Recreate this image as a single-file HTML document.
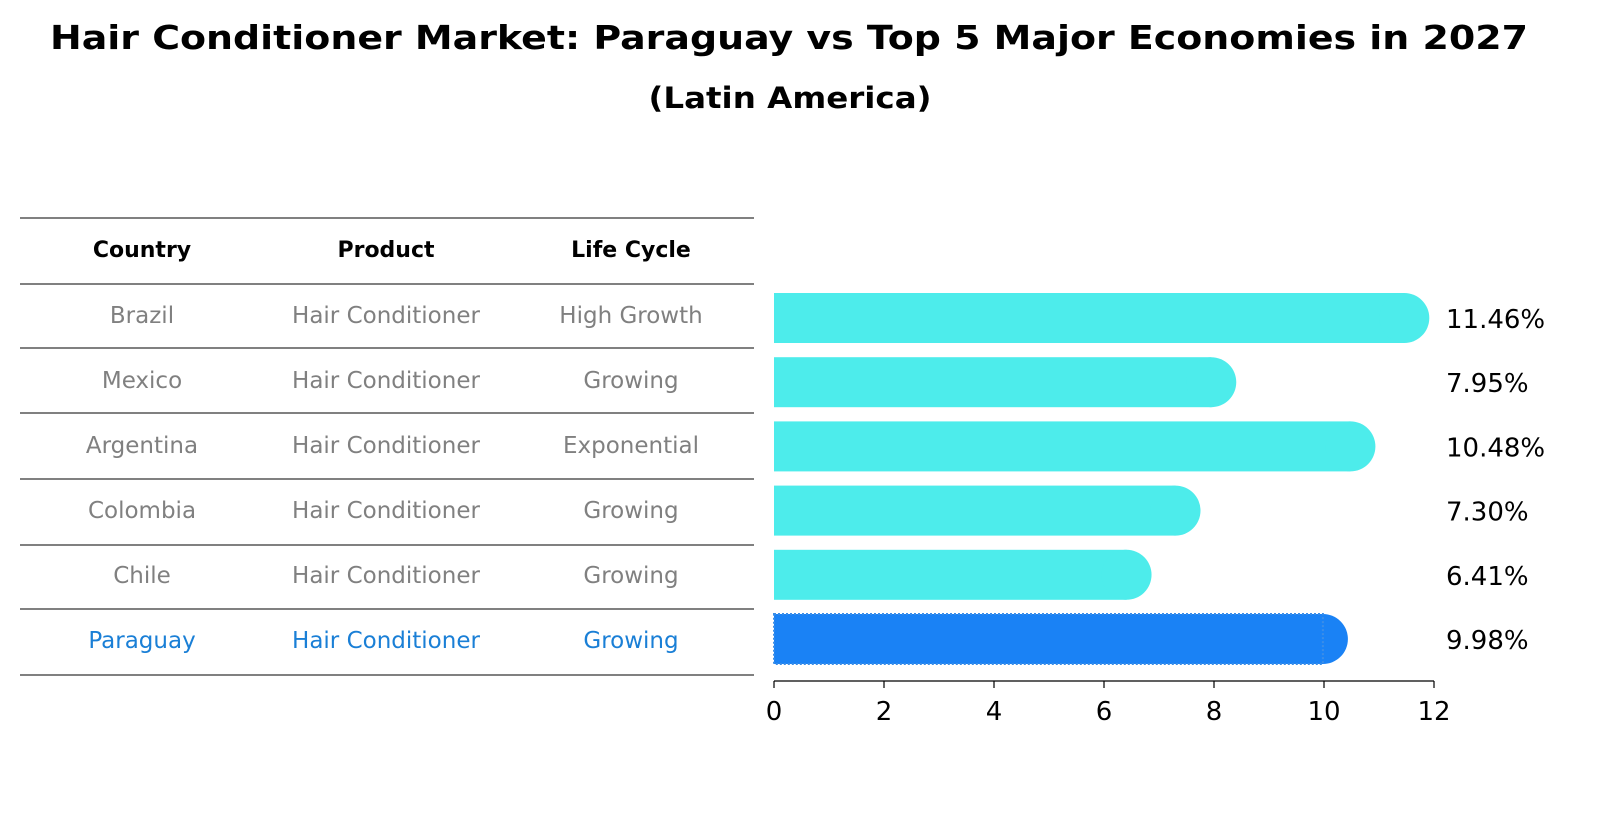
<!DOCTYPE html>
<html><head><meta charset="utf-8"><style>
body{margin:0;background:#fff;font-family:"DejaVu Sans","Liberation Sans",sans-serif;}
svg text{font-family:"DejaVu Sans","Liberation Sans",sans-serif;}
</style></head><body>
<svg id="chart" width="1604" height="823" viewBox="0 0 1604 823" xmlns="http://www.w3.org/2000/svg">
<text x="789" y="49" text-anchor="middle" font-size="33" font-weight="bold" textLength="1478" lengthAdjust="spacingAndGlyphs">Hair Conditioner Market: Paraguay vs Top 5 Major Economies in 2027</text>
<text x="790" y="108" text-anchor="middle" font-size="29" font-weight="bold" textLength="283" lengthAdjust="spacingAndGlyphs">(Latin America)</text>
<g id="table"></g>
<g id="bars"></g>
<g id="axis"></g>
</svg>
<script>
const countries=["Brazil","Mexico","Argentina","Colombia","Chile","Paraguay"];
const products=["Hair Conditioner","Hair Conditioner","Hair Conditioner","Hair Conditioner","Hair Conditioner","Hair Conditioner"];
const lifeCycles=["High Growth","Growing","Exponential","Growing","Growing","Growing"];
const values=[11.46,7.95,10.48,7.30,6.41,9.98];
const ticks=[0,2,4,6,8,10,12];
const NS="http://www.w3.org/2000/svg";
function mk(tag,attrs,parent){const e=document.createElementNS(NS,tag);for(const k in attrs)e.setAttribute(k,attrs[k]);parent.appendChild(e);return e;}
const x=v=>774+v*55;
const rowY=i=>316+i*65;
const table=document.getElementById('table');
const lines=[218,284,348,413,479,545,609,675];
lines.forEach(y=>{const l=mk('line',{x1:20,x2:754,y1:y,y2:y,stroke:'#000','stroke-width':1},table);

});
const cols=[142,386,631];
["Country","Product","Life Cycle"].forEach((h,j)=>{const t=mk('text',{x:cols[j],y:257,'text-anchor':'middle','font-size':22,'font-weight':'bold'},table);t.textContent=h;

});
countries.forEach((c,i)=>{const col=i===5?'#1a7fd6':'#808080';const cy=rowY(i)+7;
[c,products[i],lifeCycles[i]].forEach((s,j)=>{const t=mk('text',{x:cols[j],y:cy,'text-anchor':'middle','font-size':23,fill:col},table);t.textContent=s;

});});
const bars=document.getElementById('bars');
values.forEach((v,i)=>{const cy=318+i*64.2,h=50,col=i===5?'#1a82f5':'#4deceb';
const g=mk('g',{},bars);


mk('rect',{x:x(0),y:cy-h/2,width:x(v)-x(0),height:h,fill:col},g);
mk('circle',{cx:x(v),cy:cy,r:h/2,fill:col},g);
if(i===5){mk('rect',{x:x(0),y:cy-h/2,width:x(v)-x(0),height:h,fill:'none',stroke:'#3b8ee8','stroke-width':2,'stroke-dasharray':'2 2'},g);}
const t=mk('text',{x:1446,y:cy+10,'font-size':26},bars);t.textContent=v.toFixed(2)+'%';

});
const axis=document.getElementById('axis');
mk('line',{x1:x(0),x2:x(12),y1:681,y2:681,stroke:'#000','stroke-width':1.2},axis);
ticks.forEach(t=>{mk('line',{x1:x(t),x2:x(t),y1:681,y2:688,stroke:'#000','stroke-width':1.2},axis);
const l=mk('text',{x:x(t),y:720,'text-anchor':'middle','font-size':26},axis);l.textContent=t;

});
</script>
</body></html>
